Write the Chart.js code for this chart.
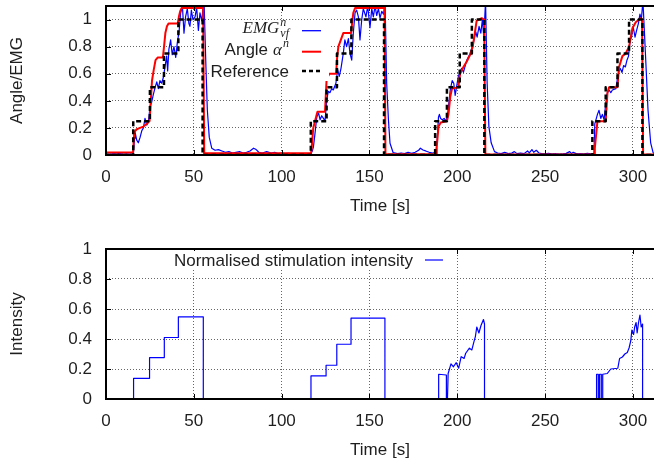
<!DOCTYPE html>
<html>
<head>
<meta charset="utf-8">
<script src="https://cdn.jsdelivr.net/npm/chart.js@4/dist/chart.umd.min.js"></script>
<style>
	html, body { margin: 0; padding: 0; background: #fff; }
	#wrap { position: relative; width: 654px; height: 466px; overflow: hidden; }
	canvas { position: absolute; left: 0; }
	#topChart { top: 0; }
	#bottomChart { top: 233px; }
</style>
</head>
<body>
<div id="wrap">
	<canvas id="topChart" width="654" height="233"></canvas>
	<canvas id="bottomChart" width="654" height="233"></canvas>
</div>
<script>
// Eixos
const timeTicks = [0, 50, 100, 150, 200, 250, 300];
const levelTicks = [0, 0.2, 0.4, 0.6, 0.8, 1];

// Referência (degraus) [tempo, valor]
const referencePoints = [
	[0, 0], [15.5, 0.25], [25, 0.5], [33, 0.75], [41.2, 1], [55, 0],
	[116.6, 0.25], [125.6, 0.5], [131.5, 0.75], [139.7, 1], [158.3, 0],
	[187.4, 0.25], [194.1, 0.5], [201.4, 0.75], [208.3, 1], [215.4, 0],
	[276.9, 0.25], [284.5, 0.5], [291.2, 0.75], [297.8, 1], [305.4, 0], [312, 0]
];

// Ângulo normalizado
const anglePoints = [
	[0, 0.018], [15.4, 0.018], [16.1, 0.17], [17.5, 0.19], [19.4, 0.2], [21.3, 0.21], [23.2, 0.23], [24.8, 0.25],
	[25.5, 0.4], [26.2, 0.55], [27.2, 0.63], [28.2, 0.7], [29.5, 0.72], [32.4, 0.72], [33.2, 0.82], [33.8, 0.9],
	[34.7, 0.95], [35.6, 0.97], [40.8, 0.97], [41.5, 1.02], [42.2, 1.06], [43, 1.085], [55.3, 1.085], [55.9, 0.012],
	[116.7, 0.012], [117.1, 0.05], [118, 0.2], [120, 0.3], [120.4, 0.32], [124.7, 0.32], [125.6, 0.56], [127.2, 0.6],
	[131, 0.6], [131.6, 0.72], [132.3, 0.8], [135.1, 0.9], [139.5, 0.9], [140.8, 1.05], [141.8, 1.085], [158.6, 1.085],
	[159.1, 0.005], [188, 0.005], [188.3, 0.06], [189.3, 0.21], [190.6, 0.24], [194.1, 0.25], [195, 0.3], [196, 0.43],
	[197, 0.49], [200.6, 0.5], [201.6, 0.6], [203.5, 0.65], [205.4, 0.69], [207.3, 0.74], [208.8, 0.8], [210.1, 0.91],
	[211, 0.99], [213.9, 1.01], [215.3, 1.0], [216, 0.004], [278, 0.004], [278.3, 0.05], [279.8, 0.25], [284.5, 0.25],
	[285.5, 0.46], [286.4, 0.5], [291.2, 0.5], [292.1, 0.65], [294, 0.73], [295.9, 0.75], [297.8, 0.8], [299.7, 0.935],
	[301.6, 0.98], [304.4, 1.01], [305.2, 1.0], [305.8, 0.004], [312, 0.004]
];

// EMG filtrado
const emgPoints = [
	[0, 0.008], [2, 0.005], [4, 0.01], [6, 0.006], [8, 0.012], [10, 0.005], [12, 0.009], [14, 0.006], [15.6, 0.008],
	[16.2, 0.12], [16.5, 0.17], [17.5, 0.11], [18.4, 0.09], [19.4, 0.13], [20.4, 0.18], [21.3, 0.2], [22.2, 0.27],
	[23.2, 0.22], [24.2, 0.25], [25.1, 0.36], [26, 0.39], [27, 0.45], [28, 0.5], [28.9, 0.54], [29.8, 0.49],
	[30.7, 0.55], [31.7, 0.53], [32.6, 0.57], [33.6, 0.65], [34.5, 0.73], [35.1, 0.62], [35.8, 0.78], [36.8, 0.85],
	[37.7, 0.74], [38.7, 0.8], [39.7, 0.72], [40.6, 0.83], [41.6, 0.91], [42.5, 1.05], [43.5, 1.1], [44.4, 0.9],
	[45.3, 1.02], [46.3, 1.08], [47.2, 0.97], [47.8, 0.95], [48.6, 1.07], [49.5, 1.0], [50.7, 1.02], [51.6, 1.09],
	[52.6, 0.92], [53.5, 1.05], [54.5, 0.99], [55.8, 1.15], [56.9, 0.65], [57.7, 0.33], [58.8, 0.13], [60.2, 0.05],
	[62.1, 0.035], [64, 0.04], [66, 0.03], [68, 0.02], [70, 0.025], [72, 0.015], [74, 0.02], [76, 0.025], [78, 0.015],
	[80, 0.02], [82, 0.03], [84, 0.05], [85.5, 0.04], [87, 0.02], [89, 0.015], [91.5, 0.025], [94, 0.015], [96, 0.02],
	[98, 0.01], [100, 0.015], [102, 0.01], [104, 0.012], [106, 0.008], [108, 0.01], [110, 0.005], [112, 0.008],
	[114, 0.006], [116.5, 0.008], [117.5, 0.03], [118.1, 0.06], [119, 0.16], [120, 0.28], [121, 0.31], [121.9, 0.26],
	[122.8, 0.29], [123.8, 0.27], [124.7, 0.25], [125.7, 0.41], [126.6, 0.47], [127.5, 0.46], [128.5, 0.49],
	[129.4, 0.48], [130.9, 0.53], [131.9, 0.63], [132.8, 0.58], [133.8, 0.64], [135.1, 0.75], [136, 0.85], [137, 0.8],
	[138, 0.86], [138.9, 0.75], [139.9, 0.7], [140.8, 0.9], [141.8, 1.05], [142.7, 1.07], [143.7, 1.02], [144.6, 0.85],
	[145.6, 1.0], [146.5, 1.08], [148, 1.02], [149, 1.1], [150.3, 0.94], [151.3, 1.08], [152.2, 1.02], [153.2, 1.1],
	[154.1, 1.03], [155.1, 1.08], [156, 1.01], [157, 1.06], [158, 1.04], [158.9, 1.12], [159.8, 0.53], [160.8, 0.26],
	[161.7, 0.087], [163.5, 0.017], [166, 0.01], [168, 0.015], [170, 0.01], [172, 0.02], [174, 0.012], [176, 0.02],
	[178, 0.035], [179, 0.05], [180.5, 0.037], [182, 0.03], [184, 0.02], [186, 0.015], [187.8, 0.02], [188.5, 0.1],
	[189.3, 0.28], [189.8, 0.3], [190.5, 0.27], [191.5, 0.26], [192.5, 0.27], [193.5, 0.25], [194.5, 0.3], [196, 0.48],
	[197.1, 0.55], [198, 0.53], [198.8, 0.44], [199.8, 0.52], [200.6, 0.58], [202.5, 0.64], [203.5, 0.61],
	[205.4, 0.7], [207.3, 0.75], [209, 0.82], [210.5, 0.91], [211.3, 0.87], [212.4, 0.95], [213.4, 0.9], [214.3, 1.0],
	[215.1, 0.87], [216.1, 1.14], [217, 0.53], [218, 0.21], [219.3, 0.09], [221.2, 0.025], [223, 0.015], [225, 0.01],
	[227, 0.02], [229, 0.01], [231, 0.015], [232.5, 0.025], [234, 0.01], [236, 0.015], [238, 0.01], [240, 0.03],
	[241, 0.015], [242.5, 0.04], [243.5, 0.02], [245, 0.035], [246.5, 0.015], [248, 0.01], [250, 0.008], [252, 0.012],
	[254, 0.006], [256, 0.01], [258, 0.005], [260, 0.008], [262, 0.012], [264, 0.025], [265, 0.01], [266, 0.02],
	[268, 0.008], [270, 0.01], [272, 0.006], [274, 0.012], [276, 0.008], [277.8, 0.01], [278.3, 0.23], [279.8, 0.3],
	[280.7, 0.33], [281.7, 0.27], [282.6, 0.3], [283.6, 0.26], [284.5, 0.38], [285.5, 0.46], [286.4, 0.48],
	[287.4, 0.46], [288.3, 0.48], [290.3, 0.49], [291.6, 0.6], [292.7, 0.64], [293.8, 0.61], [294.7, 0.66],
	[295.7, 0.65], [296.6, 0.7], [297.5, 0.73], [298.4, 0.85], [299.2, 0.87], [300.1, 0.95], [301.2, 0.87],
	[302.1, 0.92], [303.1, 0.97], [304, 1.04], [304.8, 1.0], [305.7, 1.14], [307.3, 0.7], [308.6, 0.33],
	[310.1, 0.09], [311.5, 0.017], [312, 0.01]
];

// Intensidade de estimulação normalizada
const stimPoints = [
	[0, 0], [15.7, 0], [15.7, 0.138], [24.8, 0.138], [24.8, 0.276], [33.2, 0.276], [33.2, 0.41], [41.2, 0.41],
	[41.2, 0.548], [55.4, 0.548], [55.4, 0], [116.7, 0], [116.7, 0.154], [125.3, 0.154], [125.3, 0.225],
	[131.4, 0.225], [131.4, 0.365], [139.5, 0.365], [139.5, 0.539], [158.8, 0.539], [158.8, 0], [189.4, 0],
	[189.4, 0.165], [193.8, 0.16], [193.8, 0], [194.4, 0], [194.8, 0.17], [196.4, 0.234], [197.8, 0.215],
	[199.4, 0.242], [200.8, 0.205], [202.2, 0.282], [203.9, 0.271], [204.8, 0.305], [206.9, 0.339], [208.3, 0.327],
	[209.5, 0.383], [210.3, 0.416], [211.1, 0.48], [212.3, 0.44], [213.5, 0.49], [214.9, 0.53], [215.5, 0.5],
	[215.5, 0], [279.3, 0], [279.3, 0.165], [280.3, 0.165], [280.3, 0], [281, 0], [281, 0.165], [282, 0.165],
	[282, 0], [282.8, 0], [282.8, 0.165], [285.4, 0.17], [287.4, 0.2], [291.4, 0.205], [292.4, 0.27], [294, 0.28],
	[295.4, 0.3], [296.8, 0.31], [297.8, 0.34], [298.8, 0.39], [299.4, 0.46], [300.4, 0.43], [301, 0.48],
	[301.8, 0.51], [302.4, 0.44], [303.2, 0.51], [304, 0.56], [304.7, 0.48], [305.5, 0.5], [305.5, 0], [312, 0]
];

const textColor = "#1e1e1e";
const sansFont = '"Liberation Sans", Arial, sans-serif';
const serifFont = '"Liberation Serif", "Times New Roman", serif';

function toXY(points) {
	return points.map((p) => ({ x: p[0], y: p[1] }));
}

// Moldura estilo gnuplot (esquerda, topo, base) com marcas internas
const framePlugin = {
	id: "frame",
	afterDatasetsDraw(chart) {
		const { ctx, chartArea: a, scales } = chart;
		ctx.save();
		ctx.strokeStyle = "#000";
		ctx.lineWidth = 1;
		ctx.beginPath();
		timeTicks.forEach((t) => {
			const px = Math.round(scales.x.getPixelForValue(t)) + 0.5;
			ctx.moveTo(px, a.bottom);
			ctx.lineTo(px, a.bottom - 5);
			ctx.moveTo(px, a.top);
			ctx.lineTo(px, a.top + 5);
		});
		levelTicks.forEach((v) => {
			const py = Math.round(scales.y.getPixelForValue(v)) + 0.5;
			ctx.moveTo(a.left, py);
			ctx.lineTo(a.left + 5, py);
		});
		ctx.stroke();
		ctx.lineWidth = 2;
		ctx.beginPath();
		ctx.moveTo(a.right + 4, a.top);
		ctx.lineTo(a.left, a.top);
		ctx.lineTo(a.left, a.bottom);
		ctx.lineTo(a.right + 4, a.bottom);
		ctx.stroke();
		ctx.restore();
	},
};

function sampleLine(ctx, x1, x2, y, color, width, dash) {
	ctx.save();
	ctx.strokeStyle = color;
	ctx.lineWidth = width;
	ctx.setLineDash(dash || []);
	ctx.beginPath();
	ctx.moveTo(x1, y);
	ctx.lineTo(x2, y);
	ctx.stroke();
	ctx.restore();
}

const topLegendPlugin = {
	id: "topLegend",
	afterDatasetsDraw(chart) {
		const ctx = chart.ctx;
		const right = 289;
		ctx.save();
		// caixa opaca da legenda
		ctx.fillStyle = "#fff";
		ctx.fillRect(209, 21, 120, 60);
		ctx.fillStyle = textColor;
		ctx.textBaseline = "alphabetic";

		// EMG^n_vf
		ctx.font = "italic 17px " + serifFont;
		const wEmg = ctx.measureText("EMG").width;
		ctx.font = "italic 12px " + serifFont;
		const wScript = Math.max(ctx.measureText("n").width, ctx.measureText("vf").width);
		const x0 = right - wScript - wEmg - 1;
		ctx.font = "italic 17px " + serifFont;
		ctx.fillText("EMG", x0, 33);
		ctx.font = "italic 12px " + serifFont;
		ctx.fillText("n", x0 + wEmg + 1, 26);
		ctx.fillText("vf", x0 + wEmg + 1, 36.5);

		// Angle α^n
		ctx.font = "italic 12px " + serifFont;
		const wN = ctx.measureText("n").width;
		ctx.font = "italic 17px " + serifFont;
		const wAlpha = ctx.measureText("α").width;
		const xAlpha = right - wN - 1 - wAlpha;
		ctx.fillText("α", xAlpha, 55);
		ctx.font = "italic 12px " + serifFont;
		ctx.fillText("n", xAlpha + wAlpha + 1, 47);
		ctx.font = "17px " + sansFont;
		ctx.textAlign = "right";
		ctx.fillText("Angle", xAlpha - 5, 55);

		// Reference
		ctx.fillText("Reference", right, 76.5);
		ctx.restore();

		sampleLine(ctx, 302, 321, 30.7, "#0000ff", 1.3);
		sampleLine(ctx, 302, 321, 51.7, "#ff0000", 2);
		sampleLine(ctx, 302, 322, 71, "#000", 2.5, [4, 3]);
	},
};

const bottomLegendPlugin = {
	id: "bottomLegend",
	afterDatasetsDraw(chart) {
		const ctx = chart.ctx;
		ctx.save();
		ctx.fillStyle = "#fff";
		ctx.fillRect(162, 18, 288, 19);
		ctx.fillStyle = textColor;
		ctx.font = "17px " + sansFont;
		ctx.textAlign = "right";
		ctx.fillText("Normalised stimulation intensity", 413, 33);
		ctx.restore();
		sampleLine(ctx, 425, 443, 27, "#0000ff", 1.2);
	},
};

function scaleOptions(axis, ticksList, extra) {
	const base = {
		type: "linear",
		afterBuildTicks: (scale) => {
			scale.ticks = ticksList.map((v) => ({ value: v }));
		},
		grid: { color: "rgba(0,0,0,0.6)", lineWidth: 1, drawTicks: false },
		border: { display: false, dash: [1, 2] },
		ticks: {
			color: textColor,
			font: { family: sansFont, size: 17 },
			padding: axis === "x" ? 12 : 14,
			maxRotation: 0,
			autoSkip: false,
			callback: (v) => String(v),
		},
		title: {
			display: true,
			color: textColor,
			font: { family: sansFont, size: 17 },
		},
	};
	return Object.assign(base, extra, { title: Object.assign(base.title, extra.title) });
}

// Remove o espaço extra que o Chart.js reserva para os rótulos das pontas
function fixSize(prop, size) {
	return (s) => {
		s[prop] = size;
		s.paddingTop = 0;
		s.paddingBottom = 0;
		s.paddingLeft = 0;
		s.paddingRight = 0;
	};
}

function createChart(elementId, datasets, opts, plugins) {
	return new Chart(document.getElementById(elementId).getContext("2d"), {
		type: "line",
		data: { datasets: datasets },
		options: {
			responsive: false,
			animation: false,
			devicePixelRatio: 1,
			layout: { padding: { top: opts.padTop, left: 0, right: 0, bottom: 0 } },
			elements: { point: { radius: 0 }, line: { tension: 0, borderJoinStyle: "round" } },
			plugins: { legend: { display: false }, tooltip: { enabled: false } },
			scales: {
				x: scaleOptions("x", timeTicks, {
					min: 0,
					max: 312,
					afterFit: fixSize("height", opts.xHeight),
					title: { text: "Time [s]", padding: { top: 0, bottom: opts.titlePad } },
				}),
				y: scaleOptions("y", levelTicks, {
					min: 0,
					max: opts.yMax,
					afterFit: fixSize("width", 106),
					title: { text: opts.yTitle, padding: { top: 7, bottom: 0 } },
				}),
			},
		},
		plugins: [framePlugin].concat(plugins),
	});
}

document.addEventListener("DOMContentLoaded", function () {
	// Gráfico superior: ângulo e EMG
	createChart(
		"topChart",
		[
			{ label: "Reference", data: toXY(referencePoints), borderColor: "#000", borderWidth: 2.5, borderDash: [5, 3], stepped: true, order: 0 },
			{ label: "Angle", data: toXY(anglePoints), borderColor: "#ff0000", borderWidth: 2, order: 1 },
			{ label: "EMG", data: toXY(emgPoints), borderColor: "#0000ff", borderWidth: 1.2, order: 2 },
		],
		{ padTop: 6, xHeight: 78, titlePad: 16, yMax: 1.1, yTitle: "Angle/EMG" },
		[topLegendPlugin]
	);

	// Gráfico inferior: intensidade
	createChart(
		"bottomChart",
		[{ label: "Normalised stimulation intensity", data: toXY(stimPoints), borderColor: "#0000ff", borderWidth: 1.2 }],
		{ padTop: 16, xHeight: 67, titlePad: 5, yMax: 1, yTitle: "Intensity" },
		[bottomLegendPlugin]
	);
});
</script>
</body>
</html>
